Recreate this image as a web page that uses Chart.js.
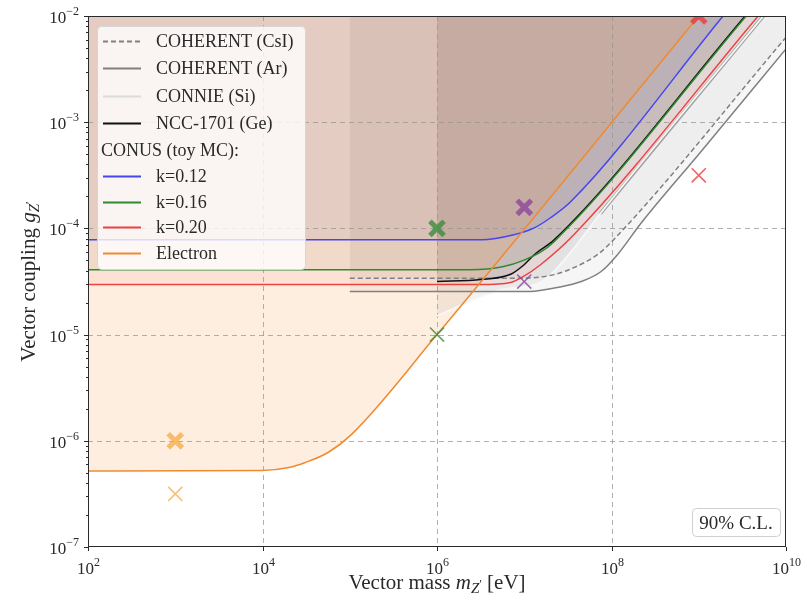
<!DOCTYPE html>
<html>
<head>
<meta charset="utf-8">
<script src="https://cdn.jsdelivr.net/npm/chart.js@4.4.0/dist/chart.umd.min.js"></script>
<style>
html, body { margin: 0; padding: 0; background: #fff; }
</style>
</head>
<body>
<canvas id="limits" width="807" height="600"></canvas>
<script>
// Exclusion curves: vector mass [eV] vs. coupling
const csiMass = [1e5, 9.1e6, 2.2e7, 3.7e7, 6.9e7, 1.07e8, 1e10];
const csiCoupling = [3.4e-5, 3.4e-5, 3.67e-5, 4.27e-5, 5.66e-5, 7.9e-5, 6.3e-3];

const arMass = [1e5, 1.17e7, 2.4e7, 4.5e7, 7.6e7, 1.17e8, 2.2e8, 1.07e9, 1e10];
const arCoupling = [2.55e-5, 2.55e-5, 2.78e-5, 3.16e-5, 3.93e-5, 5.66e-5, 1.13e-4, 5.33e-4, 4.9e-3];

const connieMass = [1e6, 5e6, 1.6e7, 3.2e7, 7.6e7, 5.5e9];
const connieCoupling = [1.5e-5, 2.6e-5, 3.16e-5, 5.6e-5, 1.41e-4, 1e-2];

const nccMass = [1e6, 3.2e6, 7e6, 9.5e6, 1.35e7, 2.2e7, 3.4e9];
const nccCoupling = [3.16e-5, 3.3e-5, 3.7e-5, 4.4e-5, 5.8e-5, 7.8e-5, 1e-2];

const k012Mass = [1e2, 3.2e6, 7.6e6, 1.3e7, 2.0e7, 3.4e7, 1.9e9];
const k012Coupling = [7.8e-5, 7.8e-5, 8.7e-5, 1.01e-4, 1.26e-4, 1.78e-4, 1e-2];

const k016Mass = [1e2, 2.4e6, 5.8e6, 9.8e6, 1.55e7, 2.2e7, 3.5e9];
const k016Coupling = [4.07e-5, 4.07e-5, 4.37e-5, 5.0e-5, 6.0e-5, 7.5e-5, 1e-2];

const k020Mass = [1e2, 3.2e6, 7.0e6, 9.5e6, 1.55e7, 3.7e7, 4.8e9];
const k020Coupling = [2.96e-5, 2.96e-5, 3.1e-5, 3.47e-5, 4.57e-5, 8.7e-5, 1e-2];

const electronMass = [1e2, 1e4, 2e4, 3.1e4, 5.7e4, 1.05e5, 1e6, 1e9];
const electronCoupling = [5.2e-7, 5.25e-7, 5.6e-7, 6.25e-7, 7.8e-7, 1.15e-6, 1.0e-5, 1e-2];

// Benchmark points (bold X and thin x)
const pointMass = [1e3, 1e6, 1e7, 1e9];
const boldCoupling = [1e-6, 1e-4, 1.58e-4, 1e-2];
const thinCoupling = [3.16e-7, 1e-5, 3.16e-5, 3.16e-4];
const pointColors = ['rgba(245,170,70,0.75)', 'rgba(60,140,60,0.8)', 'rgba(140,70,155,0.8)', 'rgba(235,60,60,0.8)'];

// Axis decades
const xTickExps = [2, 4, 6, 8, 10];
const yTickExps = [-7, -6, -5, -4, -3, -2];
const xGridExps = [4, 6, 8];
const yGridExps = [-6, -5, -4, -3];

const SERIF = '"Liberation Serif", "Times New Roman", serif';
const INK = '#2a2a2a';

const pairs = (m, g) => m.map((x, i) => ({ x: x, y: g[i] }));

function curve(label, m, g, color, fillColor, extra) {
    return Object.assign({
        label: label,
        data: pairs(m, g),
        borderColor: color,
        borderWidth: 1.5,
        pointRadius: 0,
        cubicInterpolationMode: 'monotone',
        fill: fillColor ? 'end' : false,
        backgroundColor: fillColor || 'transparent'
    }, extra || {});
}

const datasets = [
    {
        label: 'bold points',
        data: pairs(pointMass, boldCoupling),
        showLine: false,
        pointStyle: 'crossRot',
        pointRadius: 10,
        pointBorderWidth: 5,
        pointBorderColor: pointColors,
        pointBackgroundColor: pointColors,
        clip: 0
    },
    {
        label: 'thin points',
        data: pairs(pointMass, thinCoupling),
        showLine: false,
        pointStyle: 'crossRot',
        pointRadius: 10,
        pointBorderWidth: 1.6,
        pointBorderColor: pointColors,
        pointBackgroundColor: pointColors,
        clip: 0
    },
    curve('Electron', electronMass, electronCoupling, '#f08a30', 'rgba(245,140,50,0.15)'),
    curve('k=0.12', k012Mass, k012Coupling, '#4646f0', 'rgba(40,40,120,0.08)'),
    curve('k=0.16', k016Mass, k016Coupling, '#2f8a2f', 'rgba(100,120,100,0.08)'),
    curve('k=0.20', k020Mass, k020Coupling, '#f04040', 'rgba(230,60,60,0.07)'),
    curve('NCC-1701 (Ge)', nccMass, nccCoupling, '#111111', 'rgba(60,40,40,0.1)'),
    curve('COHERENT (Ar)', arMass, arCoupling, '#808080', 'rgba(128,128,128,0.07)'),
    curve('COHERENT (CsI)', csiMass, csiCoupling, '#808080', 'rgba(128,128,128,0.07)', { borderDash: [5, 3] }),
    curve('CONNIE (Si)', connieMass, connieCoupling, '#f7f7f7', 'rgba(128,128,128,0.1)', { borderWidth: 1.8 }),
    curve('CONNIE edge', connieMass.slice(4), connieCoupling.slice(4), '#a0a0a0', null, { borderWidth: 3.6, borderCapStyle: 'round' })
];

// Legend rows: label, sample colour, dash
const legendRows = [
    ['COHERENT (CsI)', '#808080', [5, 3]],
    ['COHERENT (Ar)', '#808080', []],
    ['CONNIE (Si)', '#dcdcdc', []],
    ['NCC-1701 (Ge)', '#111111', []],
    ['CONUS (toy MC):', null, []],
    ['k=0.12', '#4646f0', []],
    ['k=0.16', '#2f8a2f', []],
    ['k=0.20', '#f04040', []],
    ['Electron', '#f08a30', []]
];

function drawRuns(ctx, runs, x, y, align) {
    let w = 0;
    runs.forEach(r => { ctx.font = r.font; r.w = ctx.measureText(r.t).width; w += r.w; });
    let cx = align === 'center' ? x - w / 2 : align === 'right' ? x - w : x;
    ctx.textAlign = 'left';
    ctx.textBaseline = 'alphabetic';
    runs.forEach(r => { ctx.font = r.font; ctx.fillText(r.t, cx, y + (r.dy || 0)); cx += r.w; });
}

function powerRuns(exp) {
    const e = exp < 0 ? '\u2212' + (-exp) : String(exp);
    return [
        { t: '10', font: '17px ' + SERIF },
        { t: e, font: '12px ' + SERIF, dy: -8 }
    ];
}

const gridPlugin = {
    id: 'gridLines',
    beforeDatasetsDraw(chart) {
        const { ctx, chartArea: a, scales: { x, y } } = chart;
        ctx.save();
        ctx.strokeStyle = 'rgba(150,150,150,0.75)';
        ctx.lineWidth = 1;
        ctx.setLineDash([5, 4]);
        xGridExps.forEach(e => {
            const px = Math.round(x.getPixelForValue(Math.pow(10, e))) + 0.5;
            ctx.beginPath(); ctx.moveTo(px, a.top); ctx.lineTo(px, a.bottom); ctx.stroke();
        });
        yGridExps.forEach(e => {
            const py = Math.round(y.getPixelForValue(Math.pow(10, e))) + 0.5;
            ctx.beginPath(); ctx.moveTo(a.left, py); ctx.lineTo(a.right, py); ctx.stroke();
        });
        ctx.restore();
    }
};

const framePlugin = {
    id: 'frameAndText',
    afterDraw(chart) {
        const { ctx, chartArea: a, scales: { x, y } } = chart;
        ctx.save();
        ctx.fillStyle = INK;
        ctx.strokeStyle = INK;
        ctx.lineWidth = 1;

        // frame
        ctx.strokeRect(Math.round(a.left) + 0.5, Math.round(a.top) + 0.5,
            Math.round(a.right - a.left) - 1, Math.round(a.bottom - a.top) - 1);

        // x ticks and labels
        xTickExps.forEach(e => {
            const px = Math.round(x.getPixelForValue(Math.pow(10, e))) + 0.5;
            ctx.beginPath(); ctx.moveTo(px, a.bottom); ctx.lineTo(px, a.bottom + 4); ctx.stroke();
            drawRuns(ctx, powerRuns(e), px, a.bottom + 27, 'center');
        });

        // y ticks (major + minor) and labels
        yTickExps.forEach(e => {
            const py = Math.round(y.getPixelForValue(Math.pow(10, e))) + 0.5;
            ctx.beginPath(); ctx.moveTo(a.left, py); ctx.lineTo(a.left - 4, py); ctx.stroke();
            drawRuns(ctx, powerRuns(e), a.left - 9, py + 6, 'right');
            if (e < -2) {
                for (let k = 2; k <= 9; k++) {
                    const pm = Math.round(y.getPixelForValue(k * Math.pow(10, e))) + 0.5;
                    ctx.beginPath(); ctx.moveTo(a.left, pm); ctx.lineTo(a.left - 2, pm); ctx.stroke();
                }
            }
        });

        // axis titles
        const big = '21px ' + SERIF, it = 'italic 21px ' + SERIF, sub = 'italic 15px ' + SERIF;
        drawRuns(ctx, [
            { t: 'Vector mass ', font: big },
            { t: 'm', font: it },
            { t: 'Z', font: sub, dy: 4 },
            { t: '\u2032', font: '12px ' + SERIF, dy: -1 },
            { t: ' [eV]', font: big }
        ], (a.left + a.right) / 2, 589, 'center');

        ctx.save();
        ctx.translate(35, (a.top + a.bottom) / 2);
        ctx.rotate(-Math.PI / 2);
        drawRuns(ctx, [
            { t: 'Vector coupling ', font: big },
            { t: 'g', font: it },
            { t: 'Z', font: sub, dy: 4 },
            { t: '\u2032', font: '12px ' + SERIF, dy: -1 }
        ], 0, 0, 'center');
        ctx.restore();

        // legend box
        ctx.beginPath();
        ctx.roundRect(97.5, 26.5, 208, 243, 4);
        ctx.fillStyle = 'rgba(255,255,255,0.8)';
        ctx.fill();
        ctx.strokeStyle = '#d6d6d6';
        ctx.stroke();

        const rowY = [41, 68, 96, 123, 150, 176, 202, 227, 253];
        legendRows.forEach((row, i) => {
            const yy = rowY[i];
            ctx.fillStyle = INK;
            if (!row[1]) {
                drawRuns(ctx, [{ t: row[0], font: '18px ' + SERIF }], 101, yy + 6, 'left');
                return;
            }
            ctx.strokeStyle = row[1];
            ctx.lineWidth = 1.8;
            ctx.setLineDash(row[2]);
            ctx.beginPath(); ctx.moveTo(103, yy + 0.5); ctx.lineTo(141, yy + 0.5); ctx.stroke();
            ctx.setLineDash([]);
            drawRuns(ctx, [{ t: row[0], font: '18px ' + SERIF }], 156, yy + 6, 'left');
        });

        // confidence level tag
        ctx.beginPath();
        ctx.roundRect(692.5, 508.5, 88, 28, 4);
        ctx.fillStyle = 'rgba(255,255,255,0.9)';
        ctx.fill();
        ctx.strokeStyle = '#cfcfcf';
        ctx.lineWidth = 1;
        ctx.stroke();
        ctx.fillStyle = INK;
        drawRuns(ctx, [{ t: '90% C.L.', font: '19px ' + SERIF }], 736, 529, 'center');

        ctx.restore();
    }
};

new Chart(document.getElementById('limits'), {
    type: 'line',
    data: { datasets: datasets },
    options: {
        responsive: false,
        animation: false,
        devicePixelRatio: 1,
        layout: { padding: { left: 88, top: 16, right: 21, bottom: 53 } },
        scales: {
            x: { type: 'logarithmic', min: 1e2, max: 1e10, display: false },
            y: { type: 'logarithmic', min: 1e-7, max: 1e-2, display: false }
        },
        plugins: {
            legend: { display: false },
            tooltip: { enabled: false },
            filler: { drawTime: 'beforeDatasetsDraw' }
        }
    },
    plugins: [gridPlugin, framePlugin]
});
</script>
</body>
</html>
